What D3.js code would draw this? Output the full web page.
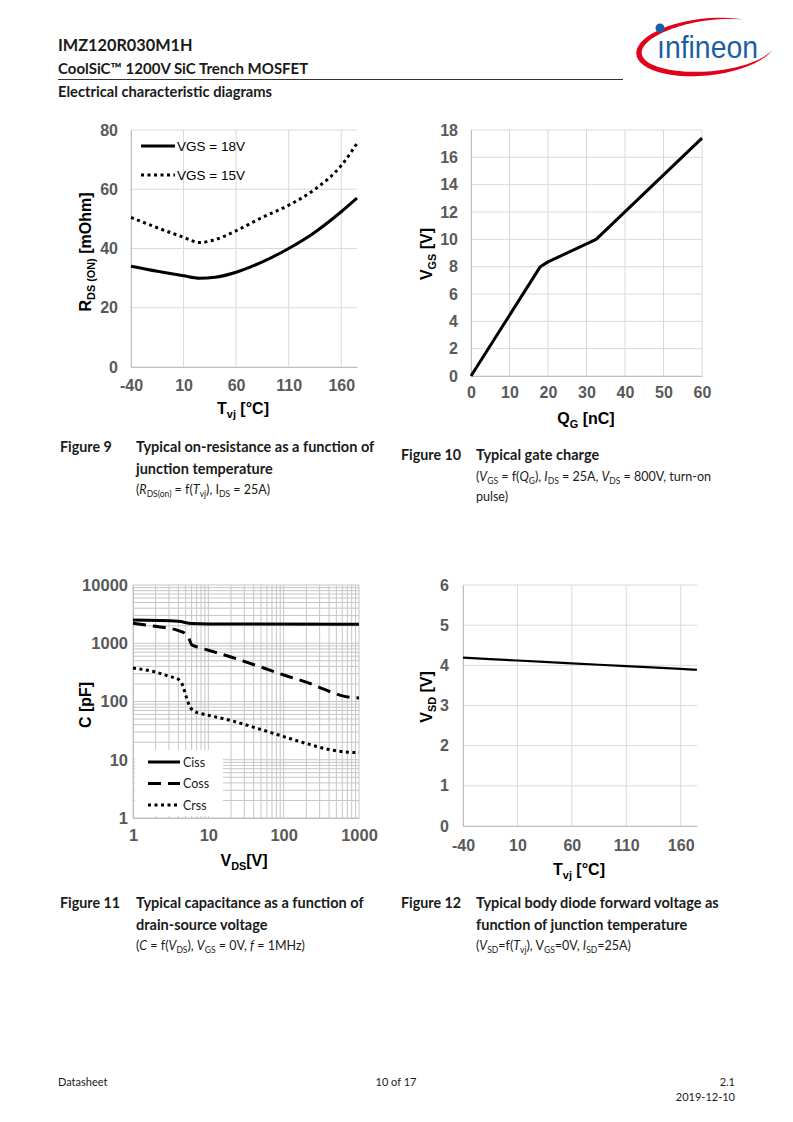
<!DOCTYPE html>
<html>
<head>
<meta charset="utf-8">
<script src="https://cdn.jsdelivr.net/npm/d3@7"></script>
<style>
  body { margin: 0; background: #fff; }
  svg { display: block; }
</style>
</head>
<body>
<script>
// ---- data ----

// Figure 9: on-resistance vs junction temperature
const fig9Temp = [-40, -15, 10, 25, 40, 60, 85, 110, 135, 160, 175];
const fig9Rds18 = [34, 32.3, 30.8, 30, 30.3, 32, 35.5, 40, 45.5, 52.4, 57];
const fig9Rds15 = [50.5, 47, 43.8, 42, 43, 46, 50.5, 54.6, 60, 68, 75.5];
const fig9XTicks = [-40, 10, 60, 110, 160];
const fig9YTicks = [0, 20, 40, 60, 80];

// Figure 10: gate charge
const fig10Qg = [0, 18, 20, 32.5, 60];
const fig10Vgs = [0, 8, 8.35, 10, 17.4];
const fig10XTicks = [0, 10, 20, 30, 40, 50, 60];
const fig10YTicks = [0, 2, 4, 6, 8, 10, 12, 14, 16, 18];

// Figure 11: capacitances vs drain-source voltage
const cissVds = [1, 4, 6, 10, 1000];
const cissVal = [2500, 2380, 2180, 2150, 2120];
const cossVds = [1, 2, 4, 5, 5.5, 6, 7, 10, 20, 50, 100, 200, 400, 600, 1000];
const cossVal = [2200, 1950, 1650, 1450, 1220, 950, 870, 760, 580, 390, 285, 215, 150, 125, 115];
const crssVds = [1, 2, 3, 4, 4.6, 5, 5.6, 6.5, 8, 10, 20, 50, 100, 200, 400, 700, 1000];
const crssVal = [375, 320, 270, 240, 185, 130, 85, 68, 62, 58, 47, 33, 25, 19, 15, 13.5, 13.3];
const fig11XTicks = [1, 10, 100, 1000];
const fig11YTicks = [1, 10, 100, 1000, 10000];

// Figure 12: body diode forward voltage vs junction temperature
const fig12Temp = [-40, 10, 60, 110, 160, 175];
const fig12Vsd = [4.19, 4.12, 4.05, 3.98, 3.91, 3.89];
const fig12XTicks = [-40, 10, 60, 110, 160];
const fig12YTicks = [0, 1, 2, 3, 4, 5, 6];

const chartFont = "'Liberation Sans', Arial, sans-serif";
const textFont = "Lato, 'Open Sans', sans-serif";
const plainFmt = d => String(d); // keeps the ascii hyphen in "-40"

const svg = d3.select("body").append("svg")
  .attr("width", 793)
  .attr("height", 1122);

svg.append("rect").attr("width", 793).attr("height", 1122).attr("fill", "#fff");

// ---- helpers ----

// text made of runs: [string, flags] flags: "i" italic, "s" subscript
function richText(sel, runs, size) {
  let shifted = false;
  runs.forEach(r => {
    const flags = r[1] || "";
    const sub = flags.includes("s");
    const t = sel.append("tspan").text(r[0]);
    if (flags.includes("i")) t.style("font-style", "italic");
    if (sub) {
      t.attr("font-size", size * 0.68);
      if (!shifted) { t.attr("dy", size * 0.22); shifted = true; }
    } else if (shifted) {
      t.attr("dy", -size * 0.22);
      shifted = false;
    }
  });
  return sel;
}

function drawGrid(g, x, y, xs, ys, color) {
  g.append("g").selectAll("line").data(xs).join("line")
    .attr("x1", d => x(d)).attr("x2", d => x(d))
    .attr("y1", y.range()[0]).attr("y2", y.range()[1])
    .attr("stroke", color).attr("stroke-width", 1);
  g.append("g").selectAll("line").data(ys).join("line")
    .attr("x1", x.range()[0]).attr("x2", x.range()[1])
    .attr("y1", d => y(d)).attr("y2", d => y(d))
    .attr("stroke", color).attr("stroke-width", 1);
}

function drawAxes(g, x, y, xTicks, yTicks, padX, padY, size) {
  const xa = d3.axisBottom(x).tickValues(xTicks).tickSize(0).tickPadding(padX).tickFormat(plainFmt);
  const ya = d3.axisLeft(y).tickValues(yTicks).tickSize(0).tickPadding(padY).tickFormat(plainFmt);
  const gx = g.append("g").attr("transform", `translate(0,${y.range()[0]})`).call(xa);
  const gy = g.append("g").attr("transform", `translate(${x.range()[0]},0)`).call(ya);
  [gx, gy].forEach(a => {
    a.select(".domain").attr("stroke", "#bfbfbf").attr("stroke-width", 1);
    a.selectAll("text")
      .attr("fill", "#595959")
      .style("font-family", chartFont)
      .style("font-weight", "bold")
      .style("font-size", (size || 16) + "px");
  });
}

function axisTitle(g, runs, x, y, rotate) {
  const t = g.append("text")
    .attr("text-anchor", "middle")
    .attr("transform", rotate ? `translate(${x},${y}) rotate(-90)` : `translate(${x},${y})`)
    .style("font-family", chartFont)
    .style("font-weight", "bold")
    .style("font-size", "16px")
    .attr("fill", "#000");
  richText(t, runs, 16);
}

function plainText(x, y, str, size, weight, anchor) {
  return svg.append("text")
    .attr("x", x).attr("y", y)
    .attr("text-anchor", anchor || "start")
    .style("font-family", textFont)
    .style("font-size", size + "px")
    .style("font-weight", weight || "normal")
    .attr("fill", "#1a1a1a")
    .text(str);
}

function captionLine(x, y, runs, size, weight) {
  const t = svg.append("text")
    .attr("x", x).attr("y", y)
    .style("font-family", textFont)
    .style("font-size", size + "px")
    .style("font-weight", weight || "normal")
    .attr("fill", "#1a1a1a");
  richText(t, runs, size);
}

// ---- page header ----
plainText(58, 51, "IMZ120R030M1H", 16.3, "bold");
plainText(58, 74, "CoolSiC™ 1200V SiC Trench MOSFET", 15, "bold");
svg.append("line").attr("x1", 58).attr("x2", 623).attr("y1", 79.5).attr("y2", 79.5)
  .attr("stroke", "#333").attr("stroke-width", 1);
plainText(58, 97, "Electrical characteristic diagrams", 14.7, "bold");

// infineon logo: red swoosh + blue wordmark
(function () {
  const cx = 706, cy = 47, rx = 70, ry = 28.5;
  const t0 = -55 * Math.PI / 180, t1 = -340 * Math.PI / 180;
  const outer = [], inner = [];
  for (let i = 0; i <= 80; i++) {
    const f = i / 80;
    const t = t0 + (t1 - t0) * f;
    const w = 5.5 * Math.pow(Math.sin(Math.PI * f), 0.9);
    outer.push([cx + rx * Math.cos(t), cy + ry * Math.sin(t)]);
    inner.push([cx + (rx - w) * Math.cos(t), cy + (ry - w) * Math.sin(t)]);
  }
  const pts = outer.concat(inner.reverse());
  svg.append("path")
    .attr("d", d3.line()(pts) + "Z")
    .attr("transform", `rotate(-6,${cx},${cy})`)
    .attr("fill", "#e2001a");
  svg.append("circle").attr("cx", 660).attr("cy", 28).attr("r", 4.5).attr("fill", "#1b5ea8");
  svg.append("text")
    .attr("x", 657).attr("y", 58)
    .attr("textLength", 101).attr("lengthAdjust", "spacingAndGlyphs")
    .style("font-family", "'Liberation Sans Narrow', 'Liberation Sans', sans-serif")
    .style("font-size", "32px")
    .attr("fill", "#1b5ea8")
    .text("ınfineon");
})();

// ---- Figure 9 ----
{
  const g = svg.append("g");
  const x = d3.scaleLinear().domain([-40, 175]).range([131, 357]);
  const y = d3.scaleLinear().domain([0, 80]).range([367, 130]);
  drawGrid(g, x, y, fig9XTicks, fig9YTicks, "#d9d9d9");
  drawAxes(g, x, y, fig9XTicks, fig9YTicks, 13, 13);

  const line = d3.line().x((d, i) => x(fig9Temp[i])).y(d => y(d)).curve(d3.curveMonotoneX);
  g.append("path").datum(fig9Rds15).attr("d", line)
    .attr("fill", "none").attr("stroke", "#000").attr("stroke-width", 3)
    .attr("stroke-dasharray", "3,3.5");
  g.append("path").datum(fig9Rds18).attr("d", line)
    .attr("fill", "none").attr("stroke", "#000").attr("stroke-width", 3);

  // legend
  const lg = g.append("g");
  lg.append("line").attr("x1", 141).attr("x2", 175).attr("y1", 146).attr("y2", 146)
    .attr("stroke", "#000").attr("stroke-width", 3);
  lg.append("line").attr("x1", 141).attr("x2", 175).attr("y1", 175).attr("y2", 175)
    .attr("stroke", "#000").attr("stroke-width", 3).attr("stroke-dasharray", "3,3.5");
  ["VGS = 18V", "VGS = 15V"].forEach((s, i) => {
    lg.append("text").attr("x", 177).attr("y", 150.5 + i * 29)
      .style("font-family", chartFont).style("font-size", "13.5px")
      .attr("fill", "#000").text(s);
  });

  axisTitle(g, [["R"], ["DS (ON)", "s"], [" [mOhm]"]], 91, 252, true);
  axisTitle(g, [["T"], ["vj", "s"], [" [°C]"]], 243, 414, false);
}

// ---- Figure 10 ----
{
  const g = svg.append("g");
  const x = d3.scaleLinear().domain([0, 60]).range([471, 702]);
  const y = d3.scaleLinear().domain([0, 18]).range([376, 130]);
  drawGrid(g, x, y, fig10XTicks, fig10YTicks, "#d9d9d9");
  drawAxes(g, x, y, fig10XTicks, fig10YTicks, 10.5, 13);

  const line = d3.line().x((d, i) => x(fig10Qg[i])).y(d => y(d));
  g.append("path").datum(fig10Vgs).attr("d", line)
    .attr("fill", "none").attr("stroke", "#000").attr("stroke-width", 3)
    .attr("stroke-linejoin", "round");

  axisTitle(g, [["V"], ["GS", "s"], [" [V]"]], 432, 254, true);
  axisTitle(g, [["Q"], ["G", "s"], [" [nC]"]], 586, 424, false);
}

// ---- Figure 11 ----
{
  const g = svg.append("g");
  const x = d3.scaleLog().domain([1, 1000]).range([133, 359]);
  const y = d3.scaleLog().domain([1, 10000]).range([818, 585]);
  drawGrid(g, x, y, x.ticks(), y.ticks(), "#c6c6c6");

  // legend background covers the grid
  g.append("rect").attr("x", 135).attr("y", 750).attr("width", 88).attr("height", 66)
    .attr("fill", "#fff");

  drawAxes(g, x, y, fig11XTicks, fig11YTicks, 11, 5, 16.5);

  const series = [
    { vds: cissVds, val: cissVal, dash: null },
    { vds: cossVds, val: cossVal, dash: "13,7" },
    { vds: crssVds, val: crssVal, dash: "3,3.5" }
  ];
  series.forEach(s => {
    const line = d3.line().x((d, i) => x(s.vds[i])).y(d => y(d)).curve(d3.curveMonotoneX);
    g.append("path").datum(s.val).attr("d", line)
      .attr("fill", "none").attr("stroke", "#000").attr("stroke-width", 3)
      .attr("stroke-dasharray", s.dash);
  });

  // legend
  const names = ["Ciss", "Coss", "Crss"];
  names.forEach((n, i) => {
    g.append("line").attr("x1", 148).attr("x2", 180)
      .attr("y1", 762 + i * 21.5).attr("y2", 762 + i * 21.5)
      .attr("stroke", "#000").attr("stroke-width", 3)
      .attr("stroke-dasharray", series[i].dash);
    g.append("text").attr("x", 183).attr("y", 766.5 + i * 21.5)
      .style("font-family", textFont).style("font-size", "12.5px")
      .attr("fill", "#222").text(n);
  });

  axisTitle(g, [["C [pF]"]], 91, 705, true);
  axisTitle(g, [["V"], ["DS", "s"], ["[V]"]], 244, 866, false);
}

// ---- Figure 12 ----
{
  const g = svg.append("g");
  const x = d3.scaleLinear().domain([-40, 175]).range([463, 697]);
  const y = d3.scaleLinear().domain([0, 6]).range([826, 585]);
  drawGrid(g, x, y, fig12XTicks, fig12YTicks, "#d9d9d9");
  drawAxes(g, x, y, fig12XTicks, fig12YTicks, 14, 14);

  const line = d3.line().x((d, i) => x(fig12Temp[i])).y(d => y(d)).curve(d3.curveMonotoneX);
  g.append("path").datum(fig12Vsd).attr("d", line)
    .attr("fill", "none").attr("stroke", "#000").attr("stroke-width", 2.2);

  axisTitle(g, [["V"], ["SD", "s"], [" [V]"]], 432, 697, true);
  axisTitle(g, [["T"], ["vj", "s"], [" [°C]"]], 579, 875, false);
}

// ---- captions ----
plainText(60, 452, "Figure 9", 14.3, "bold");
plainText(136, 452, "Typical on-resistance as a function of", 14.5, "bold");
plainText(136, 474, "junction temperature", 14.5, "bold");
captionLine(136, 494, [["("], ["R", "i"], ["DS(on)", "s"], [" = f("], ["T", "i"], ["vj", "s"], ["), I"], ["DS", "s"], [" = 25A)"]], 12.5);

plainText(401, 460, "Figure 10", 14.3, "bold");
plainText(476, 460, "Typical gate charge", 14.5, "bold");
captionLine(476, 481, [["("], ["V", "i"], ["GS", "s"], [" = f("], ["Q", "i"], ["G", "s"], ["), "], ["I", "i"], ["DS", "s"], [" = 25A, "], ["V", "i"], ["DS", "s"], [" = 800V, turn-on"]], 12.5);
plainText(476, 501, "pulse)", 12.5);

plainText(60, 908, "Figure 11", 14.3, "bold");
plainText(136, 908, "Typical capacitance as a function of", 14.5, "bold");
plainText(136, 930, "drain-source voltage", 14.5, "bold");
captionLine(136, 950, [["("], ["C", "i"], [" = f("], ["V", "i"], ["DS", "s"], ["), "], ["V", "i"], ["GS", "s"], [" = 0V, "], ["f", "i"], [" = 1MHz)"]], 12.5);

plainText(401, 908, "Figure 12", 14.3, "bold");
plainText(476, 908, "Typical body diode forward voltage as", 14.5, "bold");
plainText(476, 930, "function of junction temperature", 14.5, "bold");
captionLine(476, 950, [["("], ["V", "i"], ["SD", "s"], ["=f("], ["T", "i"], ["vj", "s"], ["), V"], ["GS", "s"], ["=0V, "], ["I", "i"], ["SD", "s"], ["=25A)"]], 12.5);

// ---- footer ----
plainText(58, 1086, "Datasheet", 11);
plainText(396, 1086, "10 of 17", 11, "normal", "middle");
plainText(735, 1086, "2.1", 11, "normal", "end");
plainText(735, 1101, "2019-12-10", 11, "normal", "end");
</script>
</body>
</html>
